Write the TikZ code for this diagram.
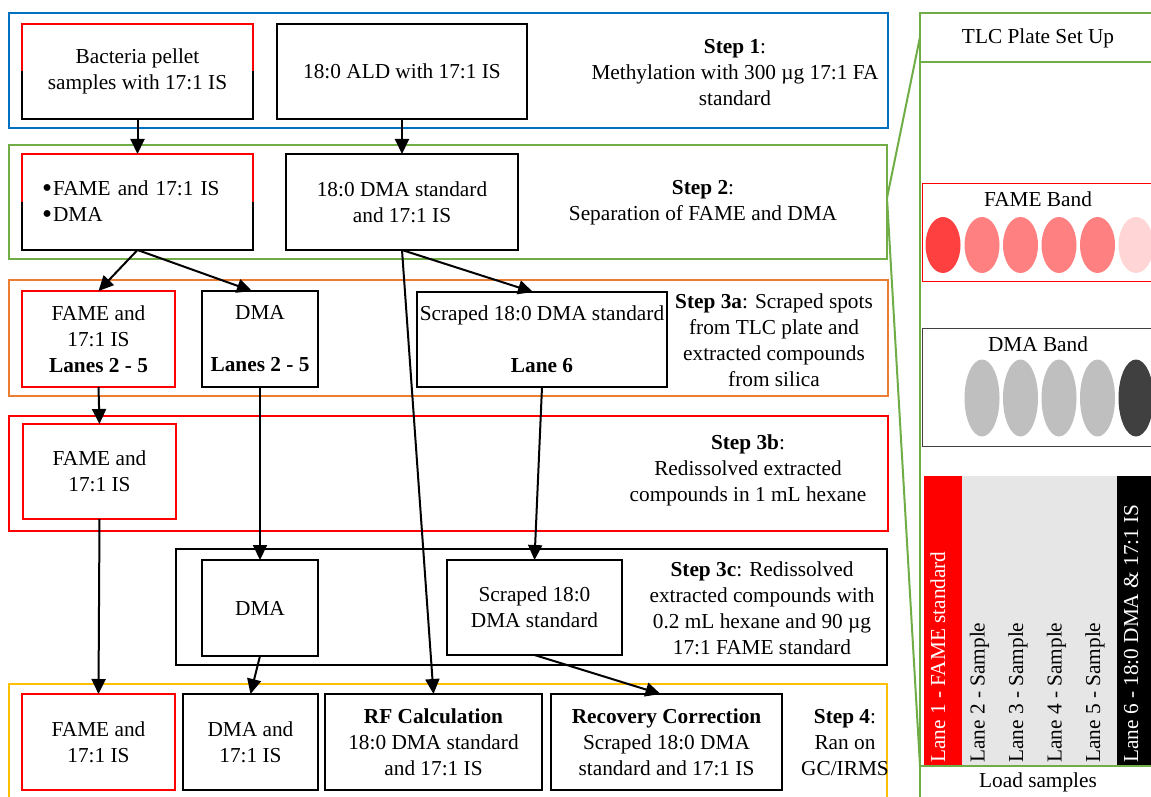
\documentclass[tikz,border=0pt]{standalone}
\usepackage{fontspec}
\setmainfont{Liberation Serif}
\usetikzlibrary{arrows.meta,calc}
\definecolor{stepblue}{HTML}{0070C0}
\definecolor{stepgreen}{HTML}{70AD47}
\definecolor{steporange}{HTML}{ED7D31}
\definecolor{stepred}{HTML}{FF0000}
\definecolor{stepyellow}{HTML}{FFC000}
\definecolor{famedark}{HTML}{FF4040}
\definecolor{famemid}{HTML}{FF8080}
\definecolor{famelight}{HTML}{FFD5D5}
\definecolor{dmalight}{HTML}{BFBFBF}
\definecolor{dmadark}{HTML}{404040}
\definecolor{lanegray}{HTML}{E6E6E6}
\tikzset{
  blk/.style={draw=black, line width=2.4pt, fill=white, align=center, inner sep=2pt, outer sep=0pt},
  redblk/.style={blk, draw=stepred},
  grp/.style={line width=2pt, inner sep=0pt, outer sep=0pt},
  arr/.style={line width=2pt, -{Triangle[length=15pt,width=14pt]}},
  lbl/.style={align=center, inner sep=0pt},
  lane/.style={rotate=90, anchor=base west, inner sep=0pt},
}
\newcommand{\bigdot}{\raisebox{-0.09em}{\scalebox{1.35}{\textbullet}}\hspace{1pt}}
\begin{document}
\begin{tikzpicture}[x=1pt, y=-1pt, font=\fontsize{21.3}{26}\selectfont]
\useasboundingbox (0,0) rectangle (1151,797);
\clip (0,0) rectangle (1151,797);

% ---- step frames ----
\node[grp, draw=stepblue,   minimum width=879pt, minimum height=115pt] (s1)  at (448.5,70.5) {};
\node[grp, draw=stepgreen,  minimum width=878pt, minimum height=114pt] (s2)  at (448,202) {};
\node[grp, draw=steporange, minimum width=879pt, minimum height=116pt] (s3a) at (448.5,338) {};
\node[grp, draw=stepred,    minimum width=879pt, minimum height=115pt] (s3b) at (448.5,473.5) {};
\node[grp, draw=black,      minimum width=711pt, minimum height=116pt] (s3c) at (531.5,607) {};
\node[grp, draw=stepyellow, minimum width=878pt, minimum height=130pt] (s4)  at (448,749) {};

% ---- step 1 ----
\node[blk, minimum width=231pt, minimum height=95pt] (bact) at (137.5,71.5)
  {Bacteria pellet\\samples with 17:1 IS};
\draw[stepred, line width=2.4pt] (bact.west) -- (bact.north west) -- (bact.north east) -- (bact.east);
\node[blk, minimum width=250pt, minimum height=95pt] (ald) at (402,71.5) {18:0 ALD with 17:1 IS};
\node[lbl] (t1) at (735,73) {\textbf{Step 1}:\\Methylation with 300 µg 17:1 FA\\standard};

% ---- step 2 ----
\node[blk, align=left, text width=191pt, minimum width=231pt, minimum height=96pt] (fame2) at (137.5,202)
  {\bigdot FAME and 17:1 IS\\\bigdot DMA};
\draw[stepred, line width=2.4pt] (fame2.west) -- (fame2.north west) -- (fame2.north east) -- (fame2.east);
\node[blk, minimum width=232pt, minimum height=96pt] (dmastd) at (402,202) {18:0 DMA standard\\and 17:1 IS};
\node[lbl] (t2) at (703,203) {\textbf{Step 2}:\\Separation of FAME and DMA};

% ---- step 3a ----
\node[redblk, minimum width=153pt, minimum height=96pt] (fame3a) at (98.5,339)
  {FAME and\\17:1 IS\\\textbf{Lanes 2 - 5}};
\node[blk, minimum width=116pt, minimum height=96pt] (dma3a) at (260,339)
  {DMA\\[26pt]\textbf{Lanes 2 - 5}};
\node[blk, inner sep=0pt, minimum width=250pt, minimum height=95pt] (scr3a) at (542,339.5)
  {Scraped 18:0 DMA standard\\[26pt]\textbf{Lane 6}};
\node[lbl] (t3a) at (774,340)
  {\textbf{Step 3a}: Scraped spots\\from TLC plate and\\extracted compounds\\from silica};

% ---- step 3b ----
\node[redblk, minimum width=153pt, minimum height=95pt] (fame3b) at (99.5,471.5) {FAME and\\17:1 IS};
\node[lbl] (t3b) at (748,470)
  {\textbf{Step 3b}:\\Redissolved extracted\\compounds in 1 mL hexane};

% ---- step 3c ----
\node[blk, minimum width=116pt, minimum height=96pt] (dma3c) at (260,608) {DMA};
\node[blk, minimum width=175pt, minimum height=95pt] (scr3c) at (534.5,607.5) {Scraped 18:0\\DMA standard};
\node[lbl] (t3c) at (762,608)
  {\textbf{Step 3c}: Redissolved\\extracted compounds with\\0.2 mL hexane and 90 µg\\17:1 FAME standard};

% ---- step 4 ----
\node[redblk, minimum width=153pt, minimum height=96pt] (fame4) at (98.5,742) {FAME and\\17:1 IS};
\node[blk, minimum width=135pt, minimum height=96pt] (dma4) at (250.5,742) {DMA and\\17:1 IS};
\node[blk, minimum width=217pt, minimum height=96pt] (rf4) at (433.5,742)
  {\textbf{RF Calculation}\\18:0 DMA standard\\and 17:1 IS};
\node[blk, minimum width=231pt, minimum height=96pt] (rec4) at (666.5,742)
  {\textbf{Recovery Correction}\\Scraped 18:0 DMA\\standard and 17:1 IS};
\node[lbl] (t4) at (845,743) {\textbf{Step 4}:\\Ran on\\GC/IRMS};

% ---- connectors ----
\draw[arr] (bact.south) -- (fame2.north);
\draw[arr] (ald.south) -- (dmastd.north);
\draw[arr] (fame2.south) -- (fame3a.north);
\draw[arr] (fame2.south) -- ($(dma3a.north)+(-8,0)$);
\draw[arr] (dmastd.south) -- ($(scr3a.north)+(-9,0)$);
\draw[arr] (dmastd.south) -- (rf4.north);
\draw[arr] (fame3a.south) -- (fame3b.north);
\draw[arr] (dma3a.south) -- (dma3c.north);
\draw[arr] (scr3a.south) -- (scr3c.north);
\draw[arr] (fame3b.south) -- (fame4.north);
\draw[arr] (dma3c.south) -- (dma4.north);
\draw[arr] (scr3c.south) -- ($(rec4.north)+(-6,0)$);

% ---- TLC plate panel ----
\fill[red] (924,476) rectangle (962,766);
\fill[lanegray] (962,476) rectangle (1117,766);
\fill[black] (1117,476) rectangle (1165,766);
\node[lane, white] (l1) at (945,763) {Lane 1 - FAME standard};
\node[lane] (l2) at (984.5,763) {Lane 2 - Sample};
\node[lane] (l3) at (1023,763) {Lane 3 - Sample};
\node[lane] (l4) at (1061.5,763) {Lane 4 - Sample};
\node[lane] (l5) at (1100,763) {Lane 5 - Sample};
\node[lane, white] (l6) at (1138,763) {Lane 6 - 18:0 DMA \& 17:1 IS};

\draw[stepred, line width=1pt] (922,183) rectangle (1165,281);
\node[lbl] (fband) at (1038,199) {FAME Band};
\fill[famedark] (943,245) ellipse [x radius=17.5, y radius=28];
\foreach \xc in {982,1020.5,1059,1097.5}
  \fill[famemid] (\xc,245) ellipse [x radius=17.5, y radius=28];
\fill[famelight] (1136,245) ellipse [x radius=17.5, y radius=28];

\draw[dmadark, line width=1pt] (922,328) rectangle (1165,446);
\node[lbl] (dband) at (1038,344) {DMA Band};
\foreach \xc in {982,1020.5,1059,1097.5}
  \fill[dmalight] (\xc,398) ellipse [x radius=17.5, y radius=38.5];
\fill[dmadark] (1136,398) ellipse [x radius=17.5, y radius=38.5];

\draw[stepgreen, line width=2pt] (920,13) rectangle (1170,820);
\draw[stepgreen, line width=2pt] (920,62) -- (1170,62);
\draw[stepgreen, line width=2pt] (920,766) -- (1170,766);
\node[lbl] (tlc) at (1038,38) {TLC Plate Set Up};
\node[lbl] (load) at (1038,782) {Load samples};

\coordinate (tlctop) at (920,37);
\coordinate (tlcbot) at (920,766);
\draw[stepgreen, line width=2pt] ($(s2.east)+(0,-4)$) -- (tlctop);
\draw[stepgreen, line width=2pt] ($(s2.east)+(0,-4)$) -- (tlcbot);
\end{tikzpicture}
\end{document}
